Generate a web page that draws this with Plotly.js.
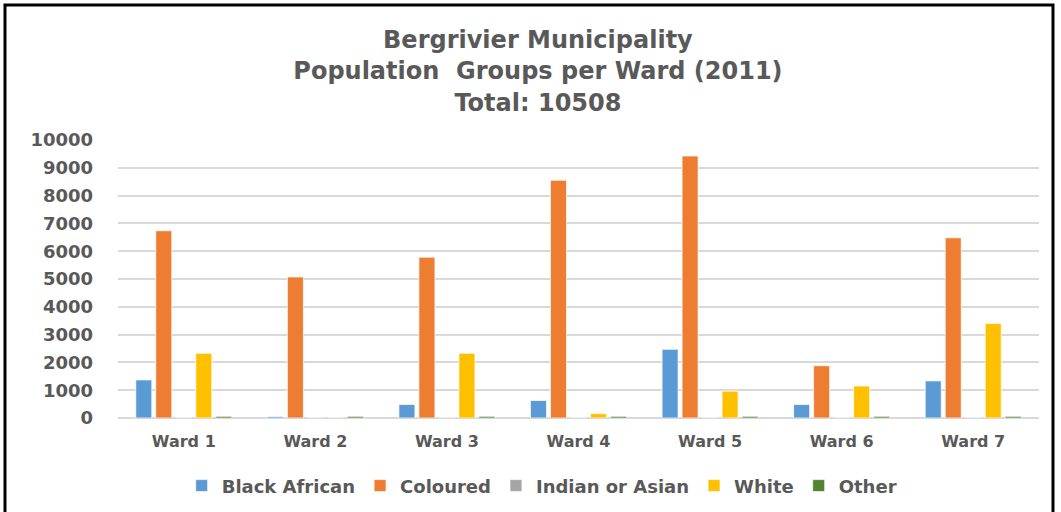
<!DOCTYPE html>
<html>
<head>
<meta charset="utf-8">
<script src="https://cdn.plot.ly/plotly-3.0.1.min.js"></script>
<style>html,body{margin:0;padding:0;background:#fff;}#chart{width:1061px;height:512px;}</style>
</head>
<body>
<div id="chart"></div>
<script>
const wards = ["Ward 1", "Ward 2", "Ward 3", "Ward 4", "Ward 5", "Ward 6", "Ward 7"];
const blackAfrican = [1370, 50, 485, 630, 2470, 485, 1335];
const coloured = [6735, 5072, 5783, 8550, 9424, 1880, 6482];
const indianOrAsian = [10, 5, 10, 10, 10, 5, 10];
const white = [2325, 5, 2325, 155, 965, 1150, 3400];
const other = [60, 60, 60, 60, 60, 60, 60];
const yTicks = [0, 1000, 2000, 3000, 4000, 5000, 6000, 7000, 8000, 9000, 10000];

const names = ["Black African", "Coloured", "Indian or Asian", "White", "Other"];
const series = [blackAfrican, coloured, indianOrAsian, white, other];
const colors = ["#5B9BD5", "#ED7D31", "#A5A5A5", "#FFC000", "#548235"];

const traces = series.map((vals, i) => ({
  type: "bar",
  name: names[i],
  x: wards,
  y: vals,
  marker: {color: colors[i], line: {color: "#ffffff", width: 0.7}},
  hoverinfo: "x+y+name"
}));

const grey = "#595959";
const layout = {
  width: 1061, height: 512,
  paper_bgcolor: "#ffffff", plot_bgcolor: "#ffffff",
  margin: {l: 118, r: 22, t: 140, b: 94},
  barmode: "group",
  bargap: 0.24,
  bargroupgap: 0.2,
  title: {
    text: "Bergrivier Municipality<br>Population  Groups per Ward (2011)<br>Total: 10508",
    font: {family: "DejaVu Sans", size: 24, color: grey, weight: 700},
    x: 0.507, xanchor: "center",
    y: 0.906, yanchor: "middle", yref: "container"
  },
  xaxis: {
    type: "category",
    tickfont: {family: "DejaVu Sans", size: 16, color: grey, weight: 700},
    showline: false, ticks: "", showgrid: false,
    ticklabelstandoff: 12
  },
  yaxis: {
    range: [0, 10000],
    tickvals: yTicks,
    ticktext: yTicks.map(String),
    tickfont: {family: "DejaVu Sans", size: 18, color: grey, weight: 700},
    gridcolor: "#d9d9d9", gridwidth: 2,
    zeroline: true, zerolinecolor: "#d9d9d9", zerolinewidth: 2,
    showline: false, ticks: "", ticklabelstandoff: 24
  },
  showlegend: true,
  legend: {
    orientation: "h",
    x: 0.46, xanchor: "center",
    y: 0.051, yanchor: "middle", yref: "container",
    font: {family: "DejaVu Sans", size: 18, color: grey, weight: 700},
    itemwidth: 30,
    traceorder: "normal"
  },
  shapes: [{
    type: "rect", xref: "paper", yref: "paper",
    x0: -0.1227, x1: 1.0152, y0: -0.36, y1: 1.486,
    line: {color: "#000000", width: 3}, fillcolor: "rgba(0,0,0,0)", layer: "above"
  }]
};

Plotly.newPlot("chart", traces, layout, {displayModeBar: false, staticPlot: true});
</script>
</body>
</html>
